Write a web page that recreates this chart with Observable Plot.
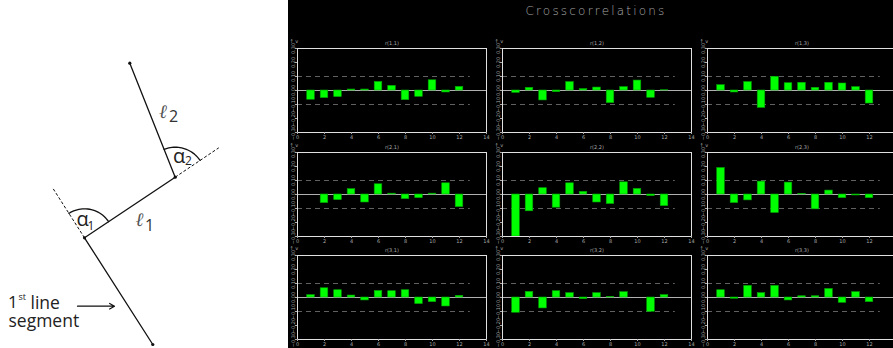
<!DOCTYPE html>
<html><head><meta charset="utf-8">
<script src="https://cdn.jsdelivr.net/npm/d3@7"></script>
<script src="https://cdn.jsdelivr.net/npm/@observablehq/plot@0.6"></script>
<style>
body{margin:0;background:#fff}
#root{position:relative;width:893px;height:348px;overflow:hidden;background:#fff}
#panel{position:absolute;left:288px;top:0;width:605px;height:348px;background:#000}
#title{position:absolute;left:288px;width:616px;top:4px;text-align:center;color:#a8a8a8;font:200 12px "DejaVu Sans",sans-serif;letter-spacing:2.2px}
.abs{position:absolute}
</style>
</head><body>
<div id="root">
  <div id="diagram" class="abs" style="left:0;top:0"></div>
  <div id="panel"></div>
  <div id="title">Crosscorrelations</div>
</div>
<script>
// ---------- crosscorrelation data ----------
const lags = [1,2,3,4,5,6,7,8,9,10,11,12];
const panelTitles = ["r(1,1)","r(1,2)","r(1,3)","r(2,1)","r(2,2)","r(2,3)","r(3,1)","r(3,2)","r(3,3)"];
const r11 = [-0.066,-0.054,-0.047,0.007,0.007,0.061,0.033,-0.069,-0.045,0.073,-0.014,0.026];
const r12 = [-0.017,0.019,-0.071,-0.012,0.060,0.010,0.021,-0.090,0.024,0.071,-0.052,0.002];
const r13 = [0.038,-0.014,0.060,-0.124,0.098,0.052,0.055,0.019,0.055,0.050,0.024,-0.093];
const r21 = [0.000,-0.061,-0.040,0.038,-0.057,0.073,0.006,-0.033,-0.026,0.006,0.080,-0.090];
const r22 = [-0.300,-0.120,0.045,-0.094,0.080,0.019,-0.057,-0.068,0.087,0.040,-0.012,-0.083];
const r23 = [0.189,-0.061,-0.042,0.092,-0.132,0.085,0.005,-0.106,0.028,-0.026,-0.007,-0.026];
const r31 = [0.017,0.066,0.052,0.014,-0.021,0.047,0.045,0.052,-0.047,-0.033,-0.064,0.012];
const r32 = [-0.109,0.040,-0.078,0.045,0.031,-0.012,0.031,0.005,0.038,0.000,-0.102,0.017];
const r33 = [0.052,-0.009,0.083,0.031,0.083,-0.021,0.009,0.009,0.061,-0.038,0.038,-0.033];
const series = [r11,r12,r13,r21,r22,r23,r31,r32,r33];
const yTicks = [-0.3,-0.2,-0.1,0,0.1,0.2,0.3];
const xTicks = [0,2,4,6,8,10,12,14];
const bandLevels = [-0.1, 0.1];
const bandEnd = 12.8;

// ---------- diagram data (in pixel-like units of the drawing) ----------
const chain = [{x:129.3,y:62.7},{x:174.7,y:176.7},{x:84,y:237.3},{x:152.3,y:344}];
const ext1End = {x:51.7,y:186.7};   // dashed extension of first segment
const ext2End = {x:218.3,y:147.3};  // dashed extension of l1

// ---------- draw diagram ----------
(function(){
  const [Ptop,P2,P1,Pbot] = chain;
  function arc(c, a, b, r){
    const a0 = Math.atan2(a.y-c.y, a.x-c.x), a1 = Math.atan2(b.y-c.y, b.x-c.x);
    return d3.range(0,1.0001,0.04).map(t=>({x:c.x+r*Math.cos(a0+(a1-a0)*t), y:c.y+r*Math.sin(a0+(a1-a0)*t)}));
  }
  const arc1 = arc(P1, ext1End, P2, 29);
  const arc2 = arc(P2, Ptop, ext2End, 30);
  const font = "Open Sans";
  const svg = Plot.plot({
    width:287, height:348, margin:0,
    x:{domain:[0,287], range:[0,287], axis:null},
    y:{domain:[0,348], range:[0,348], axis:null},
    style:{background:"#fff", fontFamily:font},
    marks:[
      Plot.line(chain,{x:"x",y:"y",stroke:"#111",strokeWidth:1.3}),
      Plot.link([{a:P1,b:ext1End},{a:P2,b:ext2End}],{x1:d=>d.a.x,y1:d=>d.a.y,x2:d=>d.b.x,y2:d=>d.b.y,stroke:"#111",strokeWidth:1,strokeDasharray:"3,2"}),
      Plot.line(arc1,{x:"x",y:"y",stroke:"#111",strokeWidth:1.3}),
      Plot.line(arc2,{x:"x",y:"y",stroke:"#111",strokeWidth:1.3}),
      Plot.dot(chain,{x:"x",y:"y",r:1.6,fill:"#111"}),
      // alpha labels
      Plot.text([{t:"α",x:82,y:219},{t:"α",x:178.5,y:156}],{x:"x",y:"y",text:"t",fontSize:20,fill:"#222"}),
      Plot.text([{t:"1",x:90.5,y:225.5},{t:"2",x:188,y:160.5}],{x:"x",y:"y",text:"t",fontSize:12,fill:"#222"}),
      // l labels
      Plot.text([{t:"ℓ",x:139,y:219},{t:"ℓ",x:162.5,y:111}],{x:"x",y:"y",text:"t",fontSize:19,fill:"#555",fontStyle:"italic",fontFamily:"DejaVu Serif"}),
      Plot.text([{t:"1",x:149,y:225},{t:"2",x:173,y:116}],{x:"x",y:"y",text:"t",fontSize:16,fill:"#333"}),
      // caption
      Plot.text([{t:"1",x:7.5,y:302.5}],{x:"x",y:"y",text:"t",fontSize:17,textAnchor:"start",fill:"#222"}),
      Plot.text([{t:"line",x:30,y:302.5},{t:"segment",x:8,y:320.5}],{x:"x",y:"y",text:"t",fontSize:17.5,textAnchor:"start",fill:"#222"}),
      Plot.text([{t:"st",x:18,y:297}],{x:"x",y:"y",text:"t",fontSize:9,textAnchor:"start",fill:"#222"}),
      Plot.arrow([{x1:77,y1:305.7,x2:114,y2:305.7}],{x1:"x1",y1:"y1",x2:"x2",y2:"y2",stroke:"#111",strokeWidth:1.2,headLength:7})
    ]
  });
  document.getElementById("diagram").appendChild(svg);
})();

// ---------- draw the 9 panels ----------
const frameLefts = [297, 502, 707];
const frameTops = [48, 152, 255];
const mL = 11, mR = 5, mT = 12, mB = 9, fW = 189, fH = 84;
series.forEach((vals, i)=>{
  const row = Math.floor(i/3), col = i%3;
  const data = lags.map((lag,k)=>({lag, v: vals[k]}));
  const fmt = d3.format(".2f");
  const p = Plot.plot({
    width: fW+mL+mR, height: fH+mT+mB,
    marginLeft:mL, marginRight:mR, marginTop:mT, marginBottom:mB,
    style:{background:"transparent", color:"#bbb", fontFamily:"DejaVu Sans", overflow:"visible"},
    x:{domain:[0,14], axis:null},
    y:{domain:[-0.3,0.3], axis:null},
    marks:[
      Plot.ruleY(bandLevels,{x1:0,x2:bandEnd,stroke:"#7a7a7a",strokeWidth:0.8,strokeDasharray:"5,4"}),
      Plot.ruleY([0],{stroke:"#b0b0b0",strokeWidth:1}),
      Plot.rect(data,{x1:d=>d.lag-0.28,x2:d=>d.lag+0.28,y1:0,y2:"v",fill:"#00ff00",stroke:"#00a400",strokeWidth:0.6}),
      Plot.frame({stroke:"#e0e0e0",strokeWidth:1}),
      Plot.axisY({ticks:yTicks,tickFormat:fmt,tickSize:2,tickPadding:1,fontSize:5,tickRotate:-90,color:"#aaa",textAnchor:"middle"}),
      Plot.axisX({ticks:xTicks,tickFormat:d=>String(d),tickSize:2,tickPadding:1,fontSize:5,color:"#aaa"}),
      Plot.text([panelTitles[i]],{frameAnchor:"top",dy:-7,fontSize:5,fill:"#aaa"})
    ]
  });
  p.style.position = "absolute";
  p.style.left = (frameLefts[col]-mL)+"px";
  p.style.top = (frameTops[row]-mT)+"px";
  document.getElementById("root").appendChild(p);
});
</script>
</body></html>
